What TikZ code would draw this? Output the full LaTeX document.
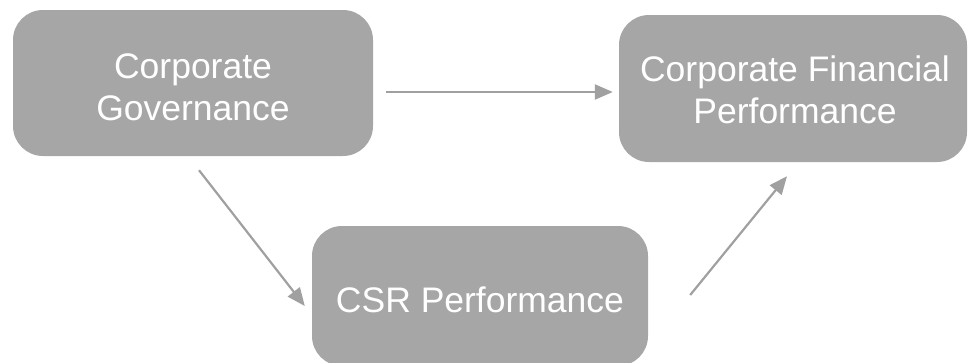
\documentclass[tikz,border=0pt]{standalone}
\usepackage{fontspec}
\setmainfont{Liberation Sans}
\usetikzlibrary{arrows.meta,calc}
\definecolor{boxgray}{HTML}{A6A6A6}
\definecolor{arrgray}{HTML}{A0A0A0}
\begin{document}
\begin{tikzpicture}[x=1pt,y=-1pt,
  box/.style={fill=boxgray, rounded corners=30pt, inner sep=0pt},
  txt/.style={text=white, align=center, font=\fontsize{35.5}{44}\selectfont, inner sep=0pt},
  arr/.style={draw=arrgray, line width=2.2pt, -{Triangle[length=18pt,width=15pt]}}]
\useasboundingbox (0,0) rectangle (968,362);
\node[box, minimum width=360pt, minimum height=146pt] (cg) at (193,83) {};
\node[box, minimum width=348pt, minimum height=147pt] (cfp) at (793,88.5) {};
\node[box, minimum width=336pt, minimum height=140pt] (csr) at (480,296) {};
\node[txt] (cgt) at ($(cg.center)+(0,4)$) {Corporate\\[-2pt]Governance};
\node[txt] (cfpt) at ($(cfp.center)+(2,1)$) {Corporate Financial\\[-2pt]Performance};
\node[txt] (csrt) at ($(csr.center)+(0,4)$) {CSR Performance};
\coordinate (a1) at ($(cg.east)+(13,9)$);
\coordinate (a2) at ($(cfp.west)+(-6,3.5)$);
\coordinate (b1) at ($(cg.south)+(6,14)$);
\coordinate (b2) at ($(csr.west)+(-7,10)$);
\coordinate (c1) at ($(csr.east)+(42,-1)$);
\coordinate (c2) at ($(cfp.south)+(-6,14)$);
\draw[arr] (a1) -- (a2);
\draw[arr] (b1) -- (b2);
\draw[arr] (c1) -- (c2);
\end{tikzpicture}
\end{document}
